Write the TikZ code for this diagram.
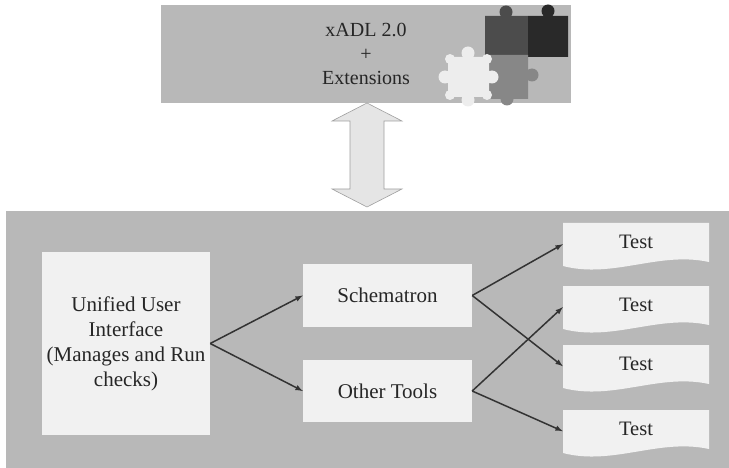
\documentclass[tikz,border=0pt]{standalone}
\usepackage{fontspec}
\setmainfont{Liberation Serif}
\definecolor{panelgray}{gray}{0.72}
\definecolor{boxwhite}{gray}{0.945}
\definecolor{arrowgray}{gray}{0.9}
\definecolor{linedark}{gray}{0.2}
\definecolor{pieceA}{gray}{0.3}
\definecolor{pieceB}{gray}{0.16}
\definecolor{pieceC}{gray}{0.93}
\definecolor{pieceD}{gray}{0.53}
\tikzset{
  box/.style={fill=boxwhite, inner sep=2pt, align=center, text=black!85,
    font=\fontsize{21}{25}\selectfont},
  testlbl/.style={anchor=north, minimum width=146pt, inner sep=3pt, text=black!85,
    text height=22pt, text depth=14pt, font=\fontsize{20.5}{24}\selectfont},
  conn/.style={-latex, line width=1.5pt, draw=linedark},
}
\begin{document}
\begin{tikzpicture}[x=1pt,y=-1pt]
  \useasboundingbox (0,0) rectangle (729,468);
  % lower panel
  \fill[panelgray] (6,211) rectangle (729,468);
  % language box on top
  \node[box, fill=panelgray, minimum width=410pt, minimum height=98pt,
    font=\fontsize{20}{24}\selectfont] (xadl) at (366,54) {xADL 2.0\\+\\Extensions};
  % puzzle pieces
  \fill[pieceA] (485,16) rectangle (528,55) (506,12) circle (6.5pt);
  \fill[pieceB] (528,16) rectangle (568,57) (548,11) circle (6.5pt);
  \fill[pieceD] (485,55) rectangle (528,99) (532,75) circle (6.5pt) (507,99) circle (6.5pt);
  \fill[pieceC] (448,57) rectangle (489,97) (468,53) circle (6.5pt) (445,77) circle (6.5pt)
    (492,77) circle (6.5pt) (468,100) circle (6.5pt) (450,59) circle (5pt) (487,59) circle (5pt)
    (450,95) circle (5pt) (487,95) circle (5pt);
  % double arrow between the levels
  \coordinate (up) at (367,103);
  \coordinate (dn) at (367,207);
  \filldraw[fill=arrowgray, draw=gray!75, line width=0.6pt]
    (up) -- ++(35,18) -- ++(-18,0) -- ++(0,68) -- ++(18,0) -- (dn)
    -- ++(-35,-18) -- ++(18,0) -- ++(0,-68) -- ++(-18,0) -- cycle;
  % tools
  \node[box, minimum width=168pt, minimum height=183pt] (ui) at (126,343.5)
    {Unified User\\Interface\\(Manages and Run\\checks)};
  \node[box, minimum width=169pt, minimum height=63pt] (schema) at (387.5,295.5) {Schematron};
  \node[box, minimum width=169pt, minimum height=62pt] (other) at (387.5,391) {Other Tools};
  % test documents
  \foreach \i/\ty in {1/223,2/286,3/345,4/410} {
    \fill[boxwhite] (563,\ty) -- ++(146,0) -- ++(0,39)
      .. controls +(-50,-11) and +(50,13) .. ++(-146,4) -- cycle;
    \node[testlbl] (test\i) at (636,\ty) {Test};
  }
  \draw[conn] (ui.east) -- (schema.west);
  \draw[conn] (ui.east) -- (other.west);
  \draw[conn] (schema.east) -- (test1.west);
  \draw[conn] (schema.east) -- (test3.west);
  \draw[conn] (other.east) -- (test2.west);
  \draw[conn] (other.east) -- (test4.west);
\end{tikzpicture}
\end{document}
